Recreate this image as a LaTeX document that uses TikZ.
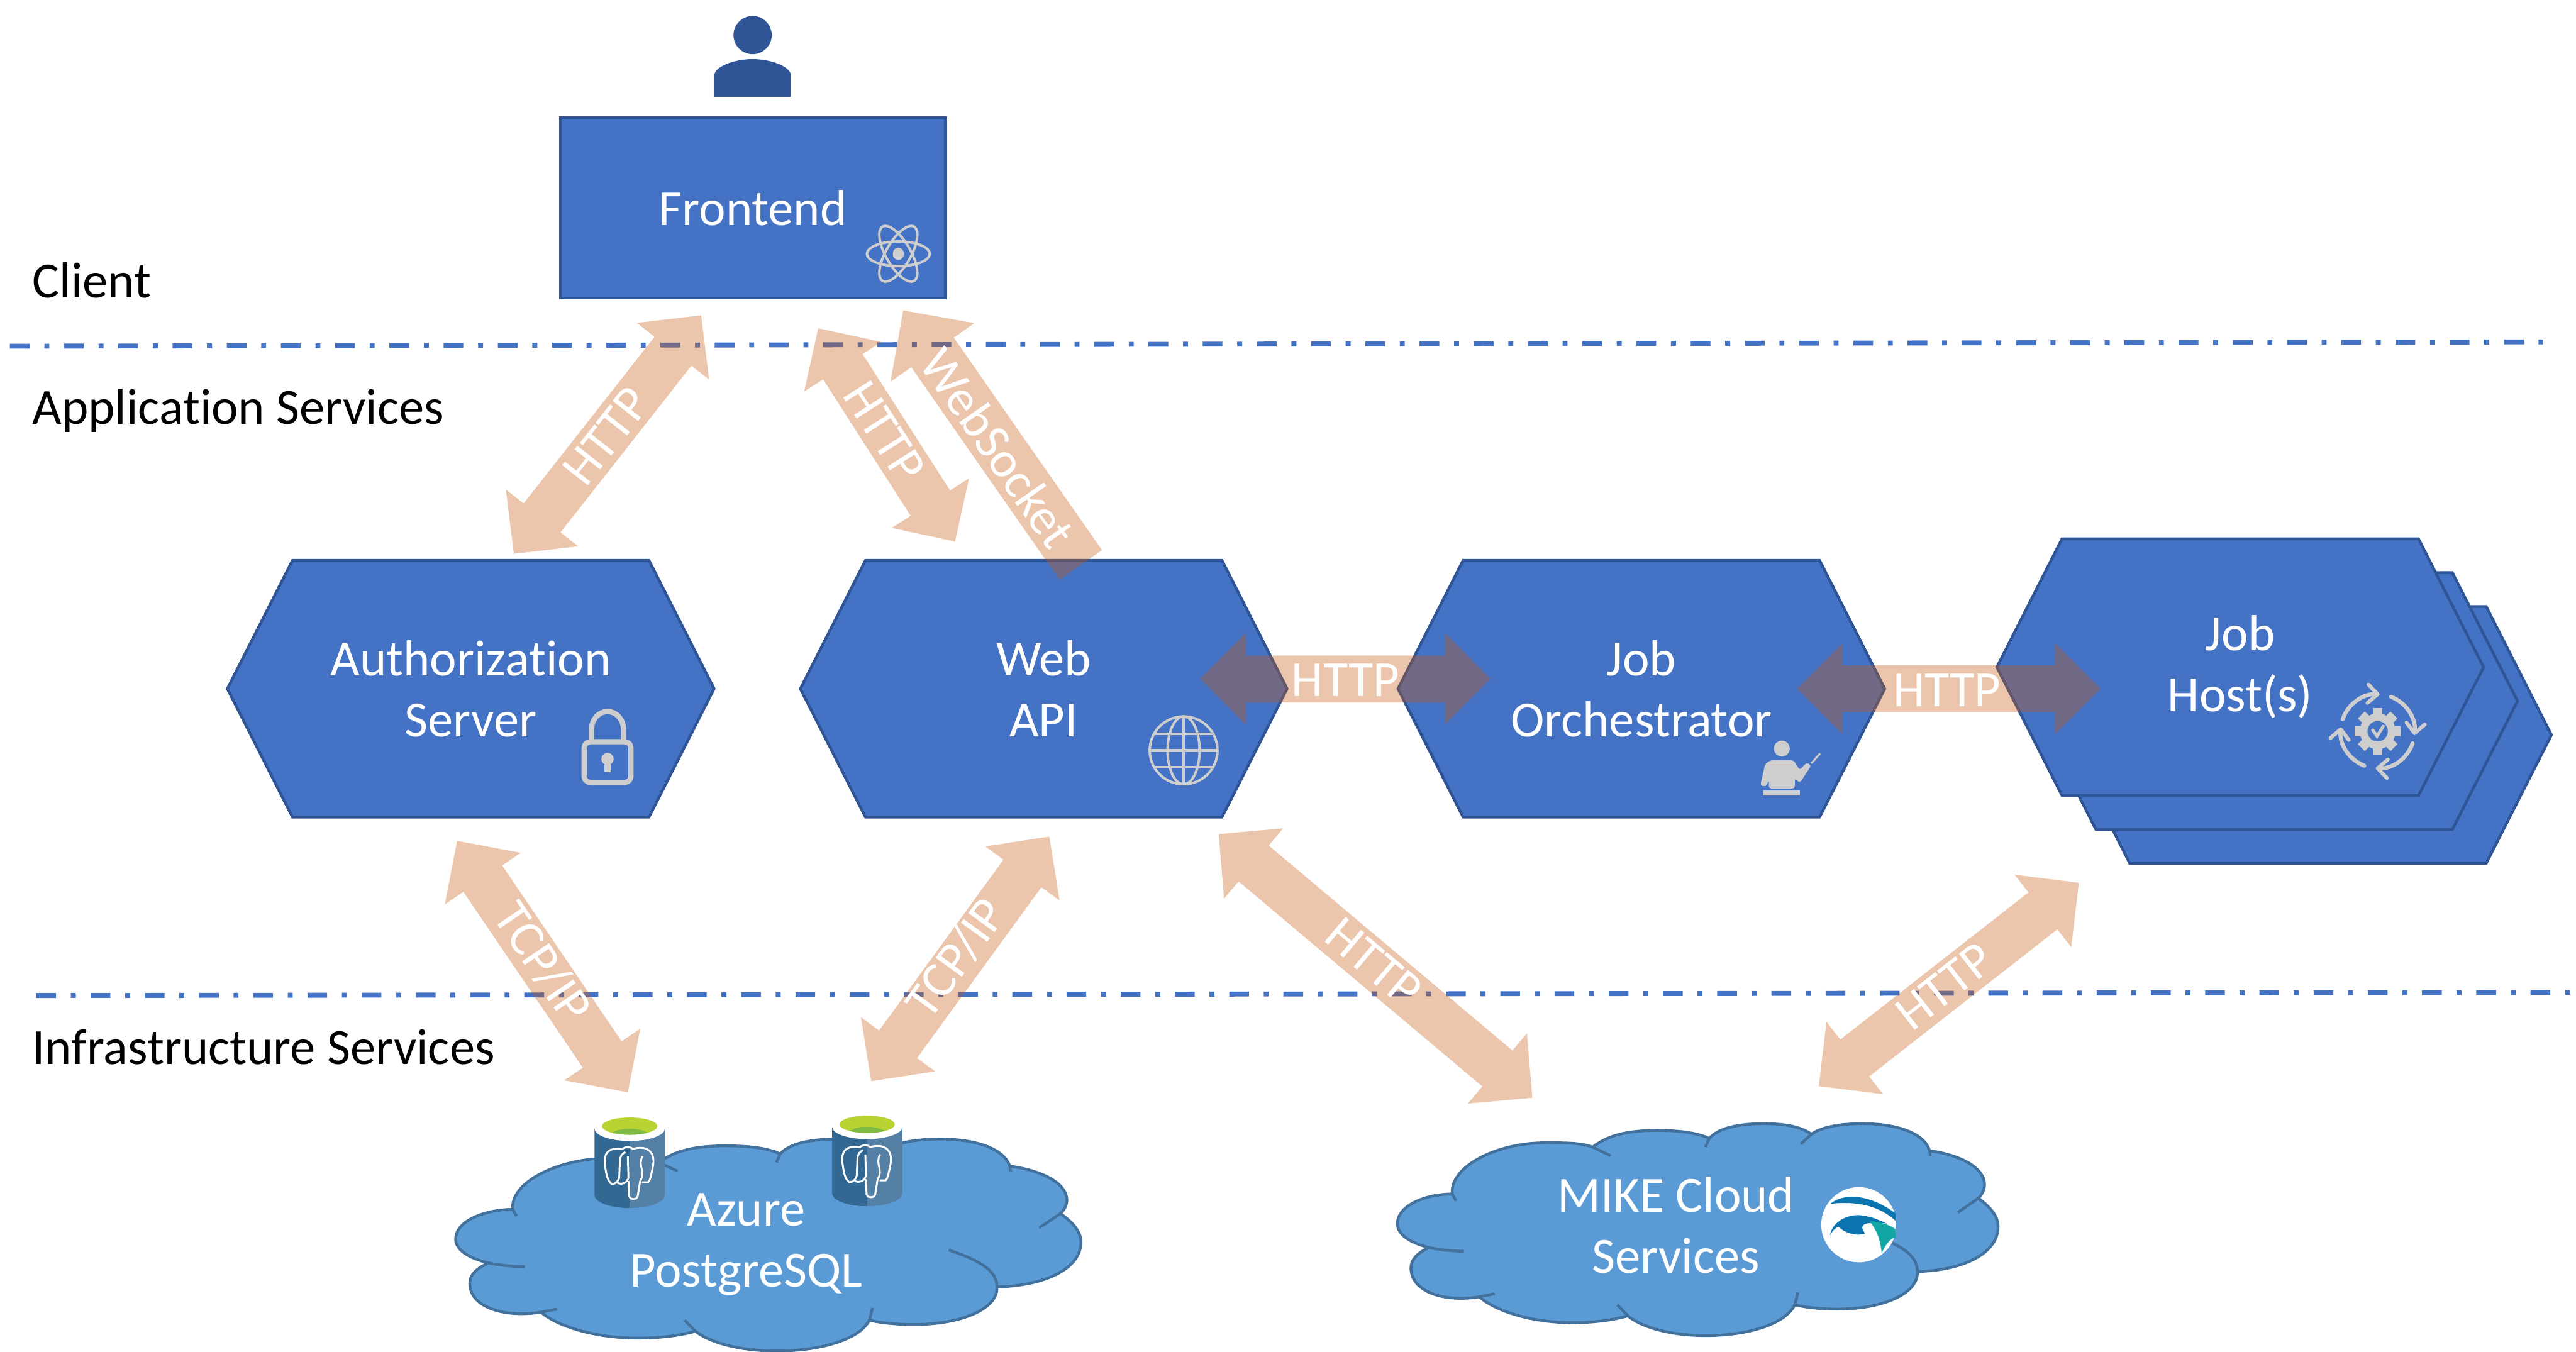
\documentclass[tikz,border=0pt]{standalone}
\usepackage{fontspec}
\setmainfont{Carlito}[Ligatures=NoCommon]
\usepackage{tikz}
\usetikzlibrary{arrows.meta,calc,shapes.symbols}

\definecolor{hexblue}{HTML}{4472C4}
\definecolor{hexline}{HTML}{2F5597}
\definecolor{cloudblue}{HTML}{5B9BD5}
\definecolor{cloudline}{HTML}{41719C}
\definecolor{flowtone}{HTML}{C55A11}
\definecolor{icongray}{HTML}{CECECE}
\definecolor{canleft}{HTML}{336892}
\definecolor{canright}{HTML}{5580A5}
\definecolor{canlime}{HTML}{B8D432}
\definecolor{cangreen}{HTML}{7FBA42}
\definecolor{mikeblue}{HTML}{0A74AE}
\definecolor{miketeal}{HTML}{12A7A5}

\newcommand{\flowboth}[2]{\fill[flow] (#1)
 -- ($(#1)!.74cm!(#2)!.745cm!90:(#2)$) -- ($(#1)!.74cm!(#2)!.38cm!90:(#2)$)
 -- ($(#2)!.74cm!(#1)!.38cm!-90:(#1)$) -- ($(#2)!.74cm!(#1)!.745cm!-90:(#1)$)
 -- (#2)
 -- ($(#2)!.74cm!(#1)!.745cm!90:(#1)$) -- ($(#2)!.74cm!(#1)!.38cm!90:(#1)$)
 -- ($(#1)!.74cm!(#2)!.38cm!-90:(#2)$) -- ($(#1)!.74cm!(#2)!.745cm!-90:(#2)$) -- cycle;}
\newcommand{\flowone}[2]{\fill[flow] (#1)
 -- ($(#1)!.83cm!(#2)!.83cm!90:(#2)$) -- ($(#1)!.83cm!(#2)!.42cm!90:(#2)$)
 -- ($(#2)!.42cm!-90:(#1)$) -- ($(#2)!.42cm!90:(#1)$)
 -- ($(#1)!.83cm!(#2)!.42cm!-90:(#2)$) -- ($(#1)!.83cm!(#2)!.83cm!-90:(#2)$) -- cycle;}

\begin{document}
\begin{tikzpicture}[x=1cm,y=1cm,>=Latex,
 bigfont/.style={font=\fontsize{23.4}{28.2}\selectfont},
 hexbox/.style={shape=signal,signal to=east and west,signal pointer angle=126.2,draw=hexline,fill=hexblue,
  line width=.045cm,minimum width=7.9cm,minimum height=4.17cm,inner sep=0pt,outer sep=0pt,
  text=white,align=center,bigfont},
 frontbox/.style={draw=hexline,fill=hexblue,line width=.045cm,minimum width=6.24cm,minimum height=2.93cm,
  inner sep=0pt,text=white,bigfont},
 tier/.style={dash pattern=on .32cm off .24cm on .08cm off .24cm,draw=hexblue,line width=.08cm},
 flow/.style={fill=flowtone,fill opacity=.35},
 flowlabel/.style={text=white,inner sep=0pt,bigfont},
 tierlabel/.style={anchor=base west,inner sep=0pt,bigfont},
 cloudlabel/.style={text=white,align=center,inner sep=0pt,bigfont},
 icon/.style={draw=icongray,line width=.04cm},
 personicon/.pic={\fill[hexline] (0,.39) ellipse (.31 and .31);
  \fill[hexline] (-.62,-.61) -- (-.62,-.25) .. controls (-.6,-.12) and (-.3,0) .. (0,0)
   .. controls (.3,0) and (.6,-.12) .. (.62,-.25) -- (.62,-.61) -- cycle;},
 reacticon/.pic={\foreach \a in {0,60,120} \draw[icon,rotate=\a] (0,0) ellipse (.51 and .2);
  \fill[icongray] (0,0) ellipse (.09 and .1);},
 lockicon/.pic={\draw[icon,line width=.085cm,rounded corners=.1cm] (-.38,-.58) rectangle (.38,.08);
  \draw[icon,line width=.085cm] (-.26,.08) -- (-.26,.28) arc (180:0:.26 and .29) -- (.26,.08);
  \fill[icongray] (0,-.2) circle (.1);\fill[icongray] (-.05,-.2) rectangle (.05,-.41);},
 globeicon/.pic={\draw[icon] (0,0) circle (.55);\draw[icon] (0,0) ellipse (.26 and .55);\draw[icon] (0,.55) -- (0,-.55);
  \draw[icon,line width=.05cm] (-.55,0) -- (.55,0);
  \foreach \y in {-.27,.27} \draw[icon] (-.48,\y) -- (.48,\y);},
 teachicon/.pic={\fill[icongray] (.02,.3) ellipse (.13 and .13);
  \fill[icongray,rounded corners=.04cm] (-.16,.11) -- (.21,.11) -- (.31,-.05) -- (.42,.07) -- (.5,.03) -- (.31,-.26)
   -- (.23,-.18) -- (.23,-.35) -- (-.19,-.35) -- (-.19,-.21) -- (-.24,-.32) -- (-.33,-.3) -- (-.25,.05) -- cycle;
  \fill[icongray] (-.29,-.38) rectangle (.31,-.46);
  \draw[icon,line width=.03cm] (.64,.22) -- (.5,.06);},
 gearicon/.pic={\fill[icongray] (0,0) circle (.29);
  \foreach \a in {0,45,...,315} \fill[icongray,rotate=\a] (-.08,.25) rectangle (.08,.375);
  \fill[hexblue] (0,0) circle (.165);
  \draw[icon,line width=.05cm,line cap=round] (-.08,.02) -- (-.01,-.08) -- (.09,.08);
  \foreach \a/\b in {161/87,69/-6,-19/-93,-111/-186}
   \draw[icon,line width=.065cm,line cap=round,-{Straight Barb[length=.16cm,width=.3cm,line width=.06cm,round]}] (\a:.6) arc (\a:\b:.6);},
 cloudblob/.pic={\draw[fill=cloudblue,draw=cloudline,line width=.045cm] (.89,-1.14)
   .. controls (.85,-.7) and (1.6,-.31) .. (2.4,-.31) .. controls (2.75,-.31) and (2.97,-.31) .. (3.17,-.38)
   .. controls (3.4,-.2) and (3.7,-.11) .. (4.21,-.11) .. controls (4.55,-.11) and (4.85,-.14) .. (5.06,-.24)
   .. controls (5.2,-.08) and (5.5,0) .. (5.95,0) .. controls (6.3,0) and (6.55,-.05) .. (6.72,-.17)
   .. controls (6.88,-.06) and (7.15,0) .. (7.56,0) .. controls (8.1,0) and (8.55,-.15) .. (8.64,-.44)
   .. controls (9.1,-.5) and (9.53,-.7) .. (9.53,-.99) .. controls (9.53,-1.07) and (9.49,-1.15) .. (9.43,-1.21)
   .. controls (9.62,-1.35) and (9.75,-1.5) .. (9.75,-1.67) .. controls (9.75,-2.1) and (9.2,-2.38) .. (8.44,-2.4)
   .. controls (8.46,-2.75) and (7.9,-3.01) .. (7.14,-3.01) .. controls (6.85,-3.01) and (6.62,-2.98) .. (6.45,-2.94)
   .. controls (6.3,-3.25) and (5.7,-3.44) .. (5,-3.44) .. controls (4.5,-3.44) and (4,-3.33) .. (3.74,-3.12)
   .. controls (3.45,-3.2) and (3.15,-3.23) .. (2.83,-3.23) .. controls (2.2,-3.23) and (1.6,-3.05) .. (1.33,-2.81)
   .. controls (.8,-2.9) and (.22,-2.75) .. (.22,-2.34) .. controls (.22,-2.2) and (.33,-2.1) .. (.51,-2.01)
   .. controls (.2,-1.93) and (0,-1.8) .. (0,-1.62) .. controls (0,-1.35) and (.4,-1.15) .. (.89,-1.14) -- cycle;
  \foreach \p/\q in {{(.89,-1.14)}/{(.95,-1.25)},{(1.33,-2.81)}/{(1.58,-2.76)},{(3.74,-3.12)}/{(3.57,-2.94)},{(6.45,-2.94)}/{(6.5,-2.74)},
    {(8.64,-.44)}/{(8.65,-.53)},{(6.72,-.17)}/{(6.55,-.33)},{(5.06,-.24)}/{(5,-.38)},{(3.17,-.38)}/{(3.46,-.52)},{(9.43,-1.21)}/{(9.1,-1.44)}}
   \draw[draw=cloudline,line width=.045cm] \p -- \q;
  \draw[draw=cloudline,line width=.045cm] (.51,-2.01) .. controls (.7,-2.05) and (.9,-2.07) .. (1.08,-2.07);
  \draw[draw=cloudline,line width=.045cm] (8.44,-2.4) .. controls (8.44,-2.1) and (8.1,-1.95) .. (7.69,-1.8);},
 pgcan/.pic={\fill[canleft] (-.57,0) -- (-.57,-1.08) arc (180:270:.57 and .21) -- (0,0) -- cycle;
  \fill[canright] (.57,0) -- (.57,-1.08) arc (0:-90:.57 and .21) -- (0,0) -- cycle;
  \fill[white] (0,0) ellipse (.57 and .2);
  \begin{scope}\clip (0,.04) ellipse (.45 and .14);
   \fill[canlime] (0,.04) ellipse (.45 and .14);
   \fill[cangreen] (0,-.14) ellipse (.33 and .14);\end{scope}
  \draw[white,line width=.03cm] (-.12,-.33) .. controls (-.35,-.3) and (-.43,-.4) .. (-.4,-.6) .. controls (-.38,-.75) and (-.36,-.85) .. (-.29,-.9)
   .. controls (-.22,-.9) and (-.19,-.85) .. (-.17,-.8) -- (-.16,-.55) .. controls (-.16,-.42) and (-.1,-.4) .. (-.07,-.38);
  \draw[white,line width=.03cm] (-.12,-.33) .. controls (-.05,-.28) and (.02,-.3) .. (.05,-.33) .. controls (.25,-.27) and (.42,-.35) .. (.38,-.6)
   .. controls (.35,-.75) and (.33,-.85) .. (.3,-.87) -- (.2,-.87);
  \draw[white,line width=.03cm] (-.02,-.85) -- (-.01,-1.1) .. controls (0,-1.16) and (.12,-1.16) .. (.13,-1.1) -- (.17,-.85)
   .. controls (.27,-.7) and (.12,-.6) .. (.21,-.45);
  \draw[white,line width=.03cm] (-.2,-.88) .. controls (-.12,-.92) and (-.05,-.88) .. (-.02,-.8) -- (-.03,-.45);},
 mikelogo/.pic={\clip (-.62,-.63) rectangle (.6,.63);
  \fill[white] (0,0) circle (.61);
  \fill[mikeblue] (-.46,.34) .. controls (-.3,.48) and (.1,.55) .. (.6,.18) -- (.6,.06) .. controls (.3,.34) and (-.1,.38) .. (-.46,.34) -- cycle;
  \fill[mikeblue] (-.47,-.17) .. controls (-.42,.08) and (-.12,.2) .. (.1,.14) .. controls (.25,.12) and (.35,.06) .. (.45,.02)
   .. controls (.2,.04) and (-.05,.05) .. (.1,-.14) .. controls (-.05,-.2) and (-.25,-.12) .. (-.33,-.03) .. controls (-.38,-.05) and (-.43,-.1) .. (-.47,-.17) -- cycle;
  \fill[miketeal] (.17,.06) .. controls (.4,.04) and (.55,-.03) .. (.6,-.08) -- (.6,-.2) .. controls (.5,-.22) and (.42,-.35) .. (.37,-.46)
   .. controls (.35,-.25) and (.3,-.1) .. (.17,.06) -- cycle;}]
\useasboundingbox (0,0) rectangle (41.81,21.94);
% tier lines
\coordinate (clienta) at (.16,16.32);\coordinate (clientb) at (41.4,16.39);
\coordinate (infraa) at (.59,5.78);\coordinate (infrab) at (41.81,5.83);
\draw[tier] (clienta)--(clientb);\draw[tier] (infraa)--(infrab);
\node[tierlabel] (tierclient) at (.52,17.11) {Client};
\node[tierlabel] (tierapp) at (.52,15.05) {Application Services};
\node[tierlabel] (tierinfra) at (.52,4.66) {Infrastructure Services};
% services
\pic (user) at (12.215,20.98) {personicon};
\node[frontbox] (frontend) at (12.22,18.565) {Frontend};
\pic (reactmark) at (14.58,17.82) {reacticon};
\node[hexbox] (auth) at (7.64,10.76) {Authorization\\Server};
\pic (lockmark) at (9.86,9.82) {lockicon};
\node[hexbox] (webapi) at (16.94,10.76) {Web\\API};
\pic (globemark) at (19.21,9.76) {globeicon};
\node[hexbox] (orch) at (26.64,10.76) {Job\\Orchestrator};
\pic (teachmark) at (28.9,9.49) {teachicon};
\node[hexbox] (hostc) at (37.46,10.01) {};
\node[hexbox] (hostb) at (36.91,10.56) {};
\node[hexbox] (hosta) at (36.36,11.11) {Job\\Host(s)};
\pic (gearmark) at (38.59,10.07) {gearicon};
% clouds
\pic[xscale=1.041] (pgcloud) at (7.395,3.45) {cloudblob};
\pic (pgone) at (10.22,3.62) {pgcan};
\pic (pgtwo) at (14.075,3.65) {pgcan};
\node[cloudlabel] (pglabel) at (12.11,1.74) {Azure\\PostgreSQL};
\pic (mikecloud) at (22.68,3.7) {cloudblob};
\node[cloudlabel] (mikelabel) at (27.2,2.05) {MIKE Cloud\\Services};
\pic (mikemark) at (30.17,2.06) {mikelogo};
% connectors
\coordinate (authup) at (8.34,12.95);\coordinate (frontl) at (11.38,16.82);
\coordinate (frontm) at (13.28,16.61);\coordinate (webm) at (15.5,13.15);
\coordinate (frontr) at (14.66,16.9);\coordinate (webr) at (17.54,12.77);
\coordinate (webe) at (19.48,10.92);\coordinate (orchw) at (24.19,10.92);
\coordinate (orche) at (29.17,10.76);\coordinate (hostw) at (34.09,10.76);
\coordinate (authdn) at (7.42,8.29);\coordinate (pgl) at (10.19,4.21);
\coordinate (webdn) at (17.03,8.36);\coordinate (pgr) at (14.14,4.39);
\coordinate (webse) at (19.78,8.4);\coordinate (mikel) at (24.87,4.12);
\coordinate (hostdn) at (33.74,7.61);\coordinate (miker) at (29.52,4.31);
\flowboth{authup}{frontl}
\flowboth{frontm}{webm}
\flowone{frontr}{webr}
\flowboth{webe}{orchw}
\flowboth{orche}{hostw}
\flowboth{authdn}{pgl}
\flowboth{webdn}{pgr}
\flowboth{webse}{mikel}
\flowboth{hostdn}{miker}
\node[flowlabel,rotate=51.8] (lblauth) at (9.84,14.86) {HTTP};
\node[flowlabel,rotate=-57.3] (lblweb) at (14.36,14.93) {HTTP};
\node[flowlabel,rotate=-55.1] (lblsock) at (16.2,14.67) {WebSocket};
\node[flowlabel] (lblorch) at (21.84,10.9) {HTTP};
\node[flowlabel] (lblhost) at (31.6,10.74) {HTTP};
\node[flowlabel,rotate=-55.8] (lbldba) at (8.81,6.32) {TCP/IP};
\node[flowlabel,rotate=54] (lbldbb) at (15.51,6.39) {TCP/IP};
\node[flowlabel,rotate=-40.1] (lblmike) at (22.3,6.32) {HTTP};
\node[flowlabel,rotate=38] (lblhostmike) at (31.56,5.93) {HTTP};
\end{tikzpicture}
\end{document}
